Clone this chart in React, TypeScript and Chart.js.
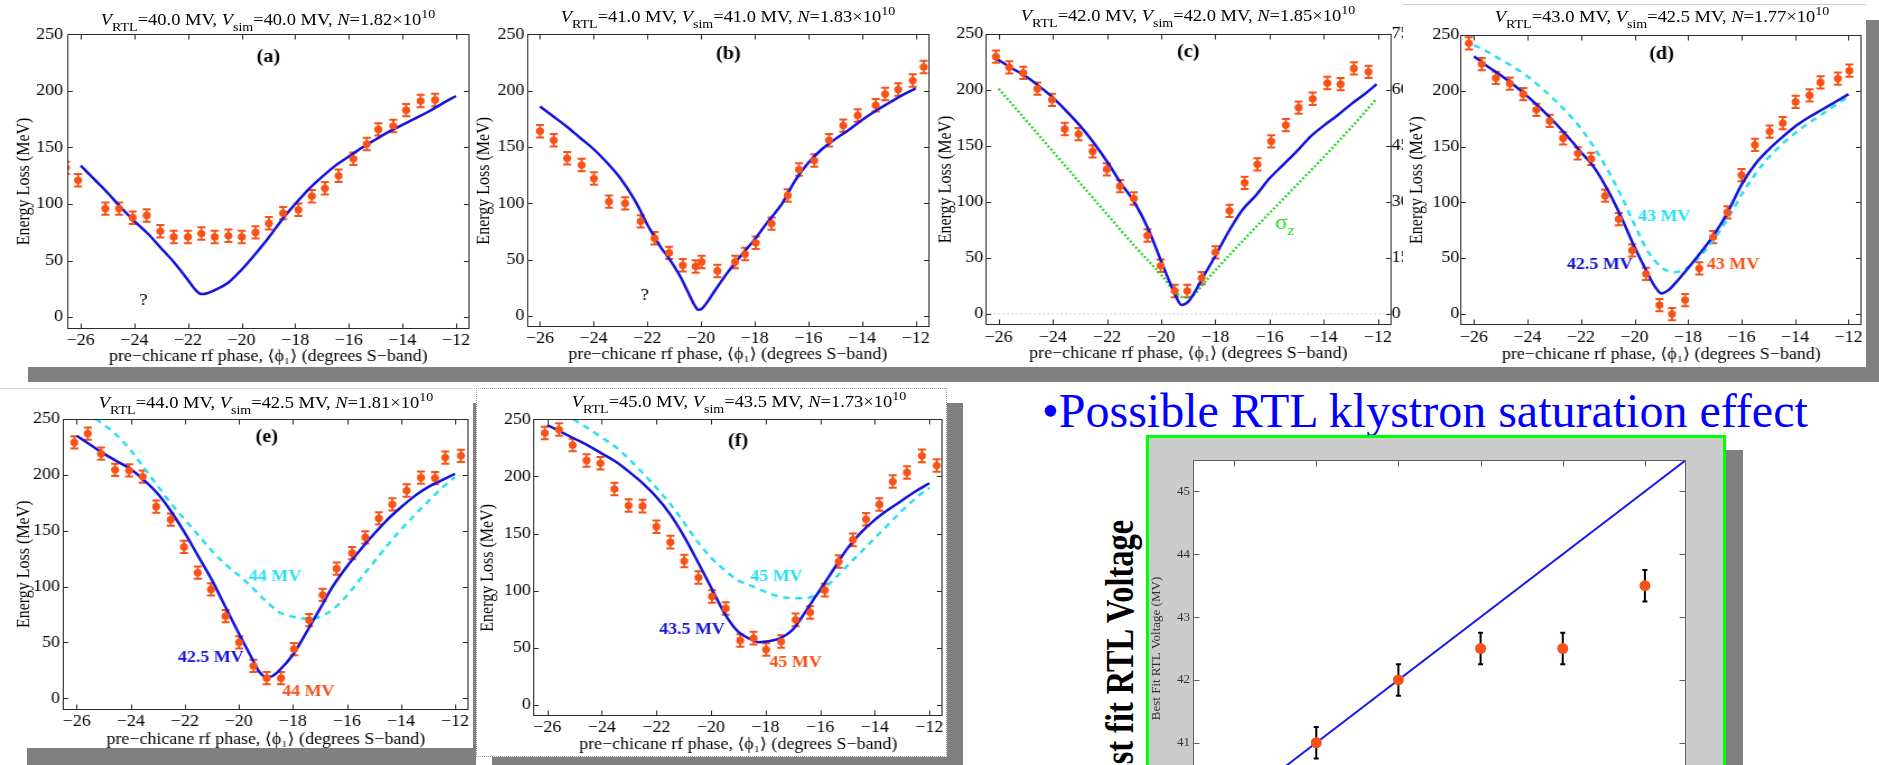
import React, { useEffect, useRef } from 'react';
import { Chart, registerables } from 'chart.js';

Chart.register(...registerables);

const SERIF = '"Liberation Serif", "Times New Roman", "DejaVu Serif", "DejaVu Sans", serif';
const ORANGE = '#fa5216';
const BLUE = '#1414dc';
const CYAN = '#2ae0f0';
const GREEN = '#27d827';
const SHADOW = '#808080';

// the scan panels are drawn narrow and widened, like the stretched figures on the slide
const STRETCH = 1.12;

// ---- axes ----
const PHASE_RANGE = [-26.5, -11.5];
const LOSS_RANGE = [-10, 250];
const SIGMA_PER_MEV = 0.3;
const FIT_RANGE = [39.5, 45.5];
const PHASE_TICKS = [-26, -24, -22, -20, -18, -16, -14, -12];
const LOSS_TICKS = [0, 50, 100, 150, 200, 250];
const SIGMA_TICKS = [0, 15, 30, 45, 60, 75];
const FIT_TICKS = [40, 41, 42, 43, 44, 45];

// ---- run parameters ----
const V_RTL = [40.0, 41.0, 42.0, 43.0, 44.0, 45.0];
const V_SIM = [40.0, 41.0, 42.0, 42.5, 42.5, 43.5];
const N_BUNCH = [1.82, 1.83, 1.85, 1.77, 1.81, 1.73];
const N_EXP = 10;
const LOSS_ERR = 5.5;
const FIT_ERR = 0.25;

// ---- (a) ----
const A_PHASE = [-26.55, -26.1, -25.08, -24.57, -24.06, -23.54, -23.03, -22.53, -22.0, -21.5, -21.0, -20.49, -19.99, -19.48, -18.98, -18.45, -17.88, -17.38, -16.89, -16.38, -15.83, -15.33, -14.9, -14.34, -13.86, -13.32, -12.78];
const A_LOSS = [132, 121, 96, 96, 88, 90, 76, 71, 71, 74, 71, 72, 71, 75, 83, 92, 95, 107, 114, 125, 140, 153, 166, 169, 183, 191, 192];
const A_SIM_PHASE = [-26, -25.5, -25, -24.5, -24, -23.5, -23, -22.5, -22, -21.75, -21.5, -21.25, -21, -20.5, -20, -19.5, -19, -18.5, -18, -17.5, -17, -16.5, -16, -15.5, -15, -14.5, -14, -13.5, -13, -12.5, -12];
const A_SIM_LOSS = [134, 122, 110, 97, 85, 74, 61, 48, 33, 25, 20.5, 21.5, 24, 30.5, 42, 55.5, 70, 86, 100, 113, 124, 134, 142, 150, 157, 164, 170, 176, 182, 189, 195.5];

// ---- (b) ----
const B_PHASE = [-26.0, -25.49, -24.99, -24.45, -23.99, -23.43, -22.83, -22.25, -21.73, -21.19, -20.68, -20.2, -19.98, -19.39, -18.73, -18.36, -17.96, -17.37, -16.77, -16.35, -15.78, -15.23, -14.7, -14.16, -13.49, -13.14, -12.65, -12.11, -11.7];
const B_LOSS = [164, 156, 140, 134, 122, 101.5, 100, 84, 69, 56, 45, 44, 48, 40, 48, 55, 65, 82, 107, 130, 138, 156, 169, 178, 187, 197, 201, 209, 221];
const B_SIM_PHASE = [-26, -25.5, -25, -24.5, -24, -23.5, -23, -22.5, -22.25, -22, -21.75, -21.5, -21.25, -21, -20.75, -20.5, -20.25, -20.1, -20, -19.75, -19.5, -19, -18.5, -18, -17.5, -17, -16.5, -16, -15.5, -15, -14.5, -14, -13.5, -13, -12.5, -12];
const B_SIM_LOSS = [186, 177, 168, 158, 148, 136, 122, 104, 93, 81, 71, 61, 53, 44, 34, 22, 10, 5.5, 6, 13, 22, 39, 54, 68, 84, 99, 120, 136, 148, 157, 165, 174, 182, 189, 196, 202];

// ---- (c) ----
const C_PHASE = [-26.1, -25.61, -25.09, -24.57, -24.03, -23.56, -23.05, -22.53, -22.01, -21.52, -21.01, -20.51, -20.02, -19.5, -19.04, -18.51, -18.0, -17.48, -16.92, -16.45, -15.94, -15.4, -14.93, -14.41, -13.87, -13.38, -12.89, -12.35];
const C_LOSS = [229.5, 220, 215, 201, 191, 165, 160.5, 145, 129, 114, 103, 70, 43, 20.5, 20.5, 32, 55, 92, 117, 133.5, 154, 168.5, 184, 192, 206, 205, 219, 216];
const C_SIM_PHASE = [-26.1, -25.5, -25, -24.5, -24, -23.5, -23, -22.5, -22, -21.5, -21, -20.5, -20, -19.75, -19.5, -19.25, -19, -18.75, -18.5, -18, -17.5, -17, -16.5, -16, -15.5, -15, -14.5, -14, -13.5, -13, -12.5, -12.05];
const C_SIM_LOSS = [228, 219, 212, 203, 193, 181, 168, 153, 136, 117, 100, 77, 47, 32, 18, 8, 11, 20, 31, 52, 74, 93, 106, 121, 133, 145, 158, 168, 177, 187, 196, 205];
const C_SIGMA_PHASE = [-26, -25, -24, -23, -22, -21, -20, -19.5, -19.25, -19, -18.75, -18.5, -18, -17, -16, -15, -14, -13, -12.05];
const C_SIGMA = [60.3, 51.9, 43.5, 35.1, 26.7, 18.3, 10.5, 6.0, 4.6, 4.4, 5.4, 7.6, 11.7, 19.5, 27.0, 34.5, 42.0, 49.8, 57.6];

// ---- (d) ----
const D_PHASE = [-26.19, -25.71, -25.18, -24.66, -24.16, -23.67, -23.17, -22.67, -22.12, -21.62, -21.1, -20.59, -20.09, -19.57, -19.07, -18.6, -18.11, -17.58, -17.06, -16.53, -16.0, -15.5, -14.95, -14.46, -13.98, -13.46, -13.05, -12.4, -11.97];
const D_LOSS = [242.5, 224, 211.5, 206.5, 197, 183, 173, 157.5, 144, 139, 106, 85, 57, 36, 8, 0, 12.5, 41, 69, 91, 124.5, 151.5, 163.5, 171, 190, 196, 207.5, 211, 218];
const D_SIM_PHASE = [-26, -25.5, -25, -24.5, -24, -23.5, -23, -22.5, -22, -21.5, -21, -20.5, -20, -19.5, -19.25, -19, -18.75, -18.5, -18, -17.5, -17, -16.5, -16, -15.5, -15, -14.5, -14, -13.5, -13, -12.5, -12];
const D_SIM_LOSS = [231, 222, 214, 205, 195, 184, 172, 159, 145, 131, 111, 87, 60, 36, 25, 18.5, 21, 27, 41, 56, 72, 92, 116, 134, 147, 158, 168, 176, 183, 190, 197];
const D_ALT_PHASE = [-26, -25.5, -25, -24.5, -24, -23.5, -23, -22.5, -22, -21.5, -21, -20.5, -20, -19.5, -19, -18.75, -18.5, -18.25, -18, -17.5, -17, -16.5, -16, -15.5, -15, -14.5, -14, -13.5, -13, -12.5, -12];
const D_ALT_LOSS = [241, 235, 228, 221, 213, 203, 192, 180, 166, 149, 129, 106, 80, 56, 42, 38.5, 37.5, 38.5, 42, 53, 68, 86, 107, 125, 140, 152, 162, 171, 179, 187, 195];

// ---- (e) ----
const E_PHASE = [-26.09, -25.59, -25.1, -24.58, -24.06, -23.56, -23.06, -22.52, -22.03, -21.52, -21.03, -20.49, -19.99, -19.46, -18.97, -18.44, -17.96, -17.4, -16.9, -16.38, -15.81, -15.32, -14.82, -14.32, -13.79, -13.26, -12.74, -12.36, -11.78];
const E_LOSS = [229, 237, 219, 204.5, 204, 198.5, 171.5, 160, 135.5, 112.5, 97.5, 73.5, 50, 29, 18, 18, 44, 70, 92.5, 116, 130, 144, 161, 173.5, 186, 197.5, 197, 215.5, 217];
const E_SIM_PHASE = [-26, -25.5, -25, -24.5, -24, -23.5, -23, -22.5, -22, -21.5, -21, -20.5, -20, -19.5, -19.25, -19, -18.75, -18.5, -18, -17.5, -17, -16.5, -16, -15.5, -15, -14.5, -14, -13.5, -13, -12.5, -12];
const E_SIM_LOSS = [235, 227, 219, 212, 205, 195, 183, 167, 148, 127, 106, 82, 58, 35, 24, 19, 20, 25, 39, 59, 80, 101, 118, 133, 147, 160, 171, 181, 189, 195, 201];
const E_ALT_PHASE = [-25.3, -25, -24.5, -24, -23.5, -23, -22.5, -22, -21.5, -21, -20.5, -20, -19.5, -19, -18.5, -18, -17.5, -17, -16.5, -16, -15.5, -15, -14.5, -14, -13.5, -13, -12.5, -12];
const E_ALT_LOSS = [250, 245, 235, 222, 206, 190, 174, 160, 146, 132, 120, 110, 99, 87, 77, 73, 71.5, 73, 80, 92, 107, 122, 137, 151, 164, 176, 188, 198];

// ---- (f) ----
const F_PHASE = [-26.09, -25.57, -25.07, -24.56, -24.05, -23.54, -23.02, -22.51, -22.0, -21.49, -20.98, -20.46, -19.96, -19.46, -18.93, -18.44, -17.98, -17.43, -16.9, -16.37, -15.83, -15.32, -14.8, -14.32, -13.83, -13.34, -12.82, -12.27, -11.73];
const F_LOSS = [238, 241, 227.5, 214, 211.5, 189, 174.5, 174, 156, 142.5, 126, 111.5, 95, 84.5, 56.5, 58.5, 48.5, 55.5, 74.5, 81, 100.5, 125.5, 144.5, 162.5, 175.5, 195.5, 203.5, 218, 209.5];
const F_SIM_PHASE = [-26, -25.5, -25, -24.5, -24, -23.5, -23, -22.5, -22, -21.5, -21, -20.5, -20, -19.5, -19, -18.5, -18.25, -18, -17.5, -17, -16.5, -16, -15.5, -15, -14.5, -14, -13.5, -13, -12.5, -12];
const F_SIM_LOSS = [245, 239, 233, 227, 220, 213, 204, 194, 182, 167, 148, 126, 103, 80, 64, 57, 55, 55.5, 58, 66, 83, 101, 119, 137, 151, 162, 171, 179, 187, 194];
const F_ALT_PHASE = [-25.05, -24.5, -24, -23.5, -23, -22.5, -22, -21.5, -21, -20.5, -20, -19.5, -19, -18.5, -18, -17.5, -17, -16.5, -16, -15.5, -15, -14.5, -14, -13.5, -13, -12.5, -12];
const F_ALT_LOSS = [250, 242, 234, 226, 215, 203, 190, 176, 160, 143, 129, 118, 109, 104, 99, 95, 93.5, 93.5, 99, 110, 122, 134, 146, 158, 170, 181, 190];

// ---- best-fit voltage summary ----
const FIT_X = V_RTL;
const FIT_Y = V_SIM;

const PHASE_TITLE = 'pre\u2212chicane rf phase, \u27e8\u03d5\u2081\u27e9 (degrees S\u2212band)';
const LOSS_TITLE = 'Energy Loss (MeV)';
const FIT_TITLE = 'Best Fit RTL Voltage (MV)';
const HEADLINE = '\u2022Possible RTL klystron saturation effect';
const SIDE_LABEL = 'Best fit RTL Voltage';

type Series = { x: number[]; y: number[] };
type Note = { x: number; y: number; text: string; color?: string; size?: number; weight?: string; sub?: string; axis?: string };
type LossPanel = {
  i: number;
  box: number[]; area: number[];
  yTitleX: number; yTickRight: number; xTickY: number; xTitleY: number; titleBase: number;
  meas: Series; sim: Series; alt?: Series; sigma?: Series; notes: Note[];
};

const PANELS: LossPanel[] = [
  {
    i: 0, box: [0, 0, 474, 367], area: [67.3, 34.3, 469.4, 328.6],
    yTitleX: 24, yTickRight: 63, xTickY: 341, xTitleY: 357, titleBase: 25,
    meas: { x: A_PHASE, y: A_LOSS }, sim: { x: A_SIM_PHASE, y: A_SIM_LOSS },
    notes: [{ x: -19.0, y: 230, text: '(a)', size: 18, weight: 'bold' }, { x: -23.66, y: 15, text: '?', size: 17 }],
  },
  {
    i: 1, box: [470, 0, 464, 367], area: [526.6, 34.3, 929.1, 327.3],
    yTitleX: 484.6, yTickRight: 524.3, xTickY: 339, xTitleY: 355, titleBase: 22.7,
    meas: { x: B_PHASE, y: B_LOSS }, sim: { x: B_SIM_PHASE, y: B_SIM_LOSS },
    notes: [{ x: -18.98, y: 232, text: '(b)', size: 18, weight: 'bold' }, { x: -22.09, y: 17.8, text: '?', size: 17 }],
  },
  {
    i: 2, box: [934, 0, 480, 367], area: [985.1, 33.7, 1391.5, 325.2],
    yTitleX: 946.3, yTickRight: 983.3, xTickY: 337.4, xTitleY: 353.4, titleBase: 21.7,
    meas: { x: C_PHASE, y: C_LOSS }, sim: { x: C_SIM_PHASE, y: C_SIM_LOSS }, sigma: { x: C_SIGMA_PHASE, y: C_SIGMA },
    notes: [
      { x: -19.0, y: 233, text: '(c)', size: 18, weight: 'bold' },
      { x: -15.45, y: 81, text: '\u03c3', sub: 'z', size: 21, color: GREEN },
    ],
  },
  {
    i: 3, box: [1403, 4, 463, 362], area: [1460.6, 35, 1863.4, 325.2],
    yTitleX: 1417.3, yTickRight: 1459.3, xTickY: 337.4, xTitleY: 355, titleBase: 22.7,
    meas: { x: D_PHASE, y: D_LOSS }, sim: { x: D_SIM_PHASE, y: D_SIM_LOSS }, alt: { x: D_ALT_PHASE, y: D_ALT_LOSS },
    notes: [
      { x: -18.99, y: 233, text: '(d)', size: 18, weight: 'bold' },
      { x: -18.89, y: 87, text: '43 MV', size: 16, weight: 'bold', color: CYAN },
      { x: -21.3, y: 44, text: '42.5 MV', size: 16, weight: 'bold', color: BLUE },
      { x: -16.32, y: 44, text: '43 MV', size: 16, weight: 'bold', color: ORANGE },
    ],
  },
  {
    i: 4, box: [0, 388, 473, 360], area: [63.2, 419, 468.5, 709.5],
    yTitleX: 24, yTickRight: 60, xTickY: 721.4, xTitleY: 739.8, titleBase: 408,
    meas: { x: E_PHASE, y: E_LOSS }, sim: { x: E_SIM_PHASE, y: E_SIM_LOSS }, alt: { x: E_ALT_PHASE, y: E_ALT_LOSS },
    notes: [
      { x: -18.97, y: 234, text: '(e)', size: 18, weight: 'bold' },
      { x: -18.66, y: 109, text: '44 MV', size: 16, weight: 'bold', color: CYAN },
      { x: -21.04, y: 36, text: '42.5 MV', size: 16, weight: 'bold', color: BLUE },
      { x: -17.43, y: 6, text: '44 MV', size: 16, weight: 'bold', color: ORANGE },
    ],
  },
  {
    i: 5, box: [476, 388, 471, 369], area: [533.6, 419.3, 943.7, 716.4],
    yTitleX: 488, yTickRight: 530.7, xTickY: 728, xTitleY: 744.8, titleBase: 407,
    meas: { x: F_PHASE, y: F_LOSS }, sim: { x: F_SIM_PHASE, y: F_SIM_LOSS }, alt: { x: F_ALT_PHASE, y: F_ALT_LOSS },
    notes: [
      { x: -19.01, y: 230.5, text: '(f)', size: 18, weight: 'bold' },
      { x: -17.6, y: 112, text: '45 MV', size: 16, weight: 'bold', color: CYAN },
      { x: -20.7, y: 65.6, text: '43.5 MV', size: 16, weight: 'bold', color: BLUE },
      { x: -16.9, y: 37, text: '45 MV', size: 16, weight: 'bold', color: ORANGE },
    ],
  },
];

const FIT_BOX = [1146, 435, 580, 445];
const FIT_AREA = [1193, 460, 1686, 837];

const pts = (s: Series) => s.x.map((x, k) => ({ x, y: s.y[k] }));
const signed = (v: any) => (Number(v) < 0 ? '\u2212' + Math.abs(Number(v)) : String(v));

// frame with inward ticks, error bars and in-plot labels
function decor(cfg: { notes: Note[]; frame: string; tickX: number; tickY: number; fill?: string; right?: string }) {
  return {
    id: 'decor',
    beforeDraw(chart: any) {
      if (!cfg.fill) return;
      const { ctx, chartArea: a } = chart;
      ctx.save();
      ctx.fillStyle = cfg.fill;
      ctx.fillRect(a.left, a.top, a.right - a.left, a.bottom - a.top);
      ctx.restore();
    },
    beforeDatasetsDraw(chart: any) {
      const { ctx, chartArea: a } = chart;
      ctx.save();
      ctx.beginPath();
      ctx.rect(a.left, a.top, a.right - a.left, a.bottom - a.top);
      ctx.clip();
      chart.data.datasets.forEach((ds: any, i: number) => {
        if (!ds.errorBar) return;
        const meta = chart.getDatasetMeta(i);
        const ys = chart.scales[meta.yAxisID];
        ctx.strokeStyle = ds.errorColor;
        ctx.lineWidth = ds.errorWidth;
        ctx.beginPath();
        meta.data.forEach((el: any, j: number) => {
          const v = ds.data[j].y;
          const t = ys.getPixelForValue(v + ds.errorBar);
          const b = ys.getPixelForValue(v - ds.errorBar);
          const c = ds.capHalf;
          ctx.moveTo(el.x, t); ctx.lineTo(el.x, b);
          ctx.moveTo(el.x - c, t); ctx.lineTo(el.x + c, t);
          ctx.moveTo(el.x - c, b); ctx.lineTo(el.x + c, b);
        });
        ctx.stroke();
      });
      ctx.restore();
    },
    afterDraw(chart: any) {
      const { ctx, chartArea: a, scales } = chart;
      ctx.save();
      ctx.strokeStyle = cfg.frame;
      ctx.lineWidth = 1;
      const L = Math.round(a.left) + 0.5;
      const R = Math.round(a.right) - 0.5;
      const T = Math.round(a.top) + 0.5;
      const B = Math.round(a.bottom) - 0.5;
      ctx.strokeRect(L, T, R - L, B - T);
      ctx.beginPath();
      scales.x.ticks.forEach((t: any) => {
        const p = Math.round(scales.x.getPixelForValue(t.value)) + 0.5;
        ctx.moveTo(p, B); ctx.lineTo(p, B - cfg.tickY);
        ctx.moveTo(p, T); ctx.lineTo(p, T + cfg.tickY);
      });
      scales.y.ticks.forEach((t: any) => {
        const p = Math.round(scales.y.getPixelForValue(t.value)) + 0.5;
        ctx.moveTo(L, p); ctx.lineTo(L + cfg.tickX, p);
      });
      const rs = scales[cfg.right || 'y'];
      rs.ticks.forEach((t: any) => {
        const p = Math.round(rs.getPixelForValue(t.value)) + 0.5;
        ctx.moveTo(R, p); ctx.lineTo(R - cfg.tickX, p);
      });
      ctx.stroke();
      cfg.notes.forEach((n) => {
        const px = scales.x.getPixelForValue(n.x);
        const py = scales[n.axis || 'y'].getPixelForValue(n.y);
        const size = n.size || 18;
        const mainFont = `${n.weight || 'normal'} ${size}px ${SERIF}`;
        ctx.fillStyle = n.color || '#000';
        ctx.textBaseline = 'middle';
        ctx.font = mainFont;
        if (!n.sub) {
          ctx.textAlign = 'center';
          ctx.fillText(n.text, px, py);
          return;
        }
        const mw = ctx.measureText(n.text).width;
        const subFont = `italic ${Math.round(size * 0.72)}px ${SERIF}`;
        ctx.font = subFont;
        const sw = ctx.measureText(n.sub).width;
        const x0 = px - (mw + sw) / 2;
        ctx.textAlign = 'left';
        ctx.font = mainFont;
        ctx.fillText(n.text, x0, py);
        ctx.font = subFont;
        ctx.fillText(n.sub, x0 + mw, py + size * 0.38);
      });
      ctx.restore();
    },
  };
}

const TICK_SIZE = 16;
const tickFont = { family: SERIF, size: TICK_SIZE, lineHeight: 1.2 };
const hiddenGrid = { display: false, drawTicks: false };

function lossConfig(p: LossPanel, cwC: number, sx: number) {
  const [cx, cy, , ch] = p.box;
  const [L, T, R, B] = p.area;
  const toC = (X: number) => (X - cx) / sx;
  const lh = TICK_SIZE * 1.2;
  const yTitleSize = 16;
  const datasets: any[] = [
    {
      data: pts(p.meas), showLine: false, pointRadius: 3.6, pointHoverRadius: 3.6,
      pointBackgroundColor: ORANGE, pointBorderWidth: 0,
      errorBar: LOSS_ERR, errorColor: ORANGE, errorWidth: 2, capHalf: 3.6,
    },
    {
      data: pts(p.sim), showLine: true, borderColor: BLUE, borderWidth: 2.5,
      pointRadius: 0, cubicInterpolationMode: 'monotone',
    },
  ];
  if (p.alt) {
    datasets.push({
      data: pts(p.alt), showLine: true, borderColor: CYAN, borderWidth: 2.5, borderDash: [6, 5],
      pointRadius: 0, cubicInterpolationMode: 'monotone',
    });
  }
  if (p.sigma) {
    datasets.push({
      data: pts(p.sigma), yAxisID: 'y2', showLine: true, borderColor: GREEN, borderWidth: 2.4,
      borderDash: [2, 2], pointRadius: 0, cubicInterpolationMode: 'monotone',
    });
    datasets.push({
      data: PHASE_RANGE.map((x) => ({ x, y: 0 })), showLine: true, borderColor: '#9c9cf0',
      borderWidth: 1, borderDash: [1, 3], pointRadius: 0,
    });
  }
  const scales: any = {
    x: {
      type: 'linear', position: 'bottom', min: PHASE_RANGE[0], max: PHASE_RANGE[1],
      afterBuildTicks: (s: any) => { s.ticks = PHASE_TICKS.map((v) => ({ value: v })); },
      afterFit: (s: any) => { s.height = cy + ch - B; s.paddingLeft = 0; s.paddingRight = 0; },
      grid: hiddenGrid, border: { display: false },
      ticks: { padding: p.xTickY - B - lh / 2, font: tickFont, color: '#000', maxRotation: 0, minRotation: 0, autoSkip: false, callback: signed },
      title: { display: true, text: PHASE_TITLE, color: '#000', font: tickFont, padding: { top: 0, bottom: cy + ch - p.xTitleY - lh / 2 } },
    },
    y: {
      type: 'linear', position: 'left', min: LOSS_RANGE[0], max: LOSS_RANGE[1],
      afterBuildTicks: (s: any) => { s.ticks = LOSS_TICKS.map((v) => ({ value: v })); },
      afterFit: (s: any) => { s.width = toC(L); s.paddingTop = 0; s.paddingBottom = 0; },
      grid: hiddenGrid, border: { display: false },
      ticks: { padding: (L - p.yTickRight) / sx, font: tickFont, color: '#000' },
      title: {
        display: true, text: LOSS_TITLE, color: '#000',
        font: { family: SERIF, size: yTitleSize, lineHeight: 1.2 },
        padding: { top: toC(p.yTitleX) - yTitleSize * 0.6, bottom: 0 },
      },
    },
  };
  if (p.sigma) {
    scales.y2 = {
      type: 'linear', position: 'right',
      min: LOSS_RANGE[0] * SIGMA_PER_MEV, max: LOSS_RANGE[1] * SIGMA_PER_MEV,
      afterBuildTicks: (s: any) => { s.ticks = SIGMA_TICKS.map((v) => ({ value: v })); },
      afterFit: (s: any) => { s.width = cwC - toC(R); s.paddingTop = 0; s.paddingBottom = 0; },
      grid: hiddenGrid, border: { display: false },
      ticks: { padding: 0, font: tickFont, color: '#000' },
    };
  }
  return {
    type: 'scatter',
    data: { datasets },
    options: {
      responsive: false, animation: false, devicePixelRatio: 1, events: [],
      layout: { padding: { left: 0, bottom: 0, top: T - cy, right: p.sigma ? 0 : cwC - toC(R) } },
      plugins: { legend: { display: false }, tooltip: { enabled: false }, title: { display: false } },
      scales,
    },
    plugins: [decor({ notes: p.notes, frame: '#2a2a2a', tickX: 5 / sx, tickY: 5, right: p.sigma ? 'y2' : 'y' })],
  };
}

function fitConfig() {
  const [cx, cy, cw, ch] = FIT_BOX;
  const [L, T, R, B] = FIT_AREA;
  const small = { family: SERIF, size: 13, lineHeight: 1.2 };
  return {
    type: 'scatter',
    data: {
      datasets: [
        {
          data: FIT_X.map((x, k) => ({ x, y: FIT_Y[k] })), showLine: false,
          pointRadius: 5.5, pointBackgroundColor: ORANGE, pointBorderWidth: 0,
          errorBar: FIT_ERR, errorColor: '#000', errorWidth: 2, capHalf: 2.5,
        },
        {
          data: FIT_RANGE.map((v) => ({ x: v, y: v })), showLine: true,
          borderColor: '#1a1af0', borderWidth: 2, pointRadius: 0,
        },
      ],
    },
    options: {
      responsive: false, animation: false, devicePixelRatio: 1, events: [],
      layout: { padding: { left: 0, bottom: 0, top: T - cy, right: cx + cw - R } },
      plugins: { legend: { display: false }, tooltip: { enabled: false } },
      scales: {
        x: {
          type: 'linear', min: FIT_RANGE[0], max: FIT_RANGE[1],
          afterBuildTicks: (s: any) => { s.ticks = FIT_TICKS.map((v) => ({ value: v })); },
          afterFit: (s: any) => { s.height = cy + ch - B; s.paddingLeft = 0; s.paddingRight = 0; },
          grid: hiddenGrid, border: { display: false },
          ticks: { padding: 4, font: small, color: '#333' },
        },
        y: {
          type: 'linear', min: FIT_RANGE[0], max: FIT_RANGE[1],
          afterBuildTicks: (s: any) => { s.ticks = FIT_TICKS.map((v) => ({ value: v })); },
          afterFit: (s: any) => { s.width = L - cx; s.paddingTop = 0; s.paddingBottom = 0; },
          grid: hiddenGrid, border: { display: false },
          ticks: { padding: 3, font: small, color: '#333' },
          title: { display: true, text: FIT_TITLE, color: '#333', font: small, padding: { top: 1157 - cx - 7.8, bottom: 0 } },
        },
      },
    },
    plugins: [decor({ notes: [], frame: '#5e5e5e', tickX: 6, tickY: 6, fill: '#ffffff' })],
  };
}

function ChartCanvas({ box, pixelWidth, make }: { box: number[]; pixelWidth: number; make: () => any }) {
  const ref = useRef<HTMLCanvasElement | null>(null);
  useEffect(() => {
    const chart = new Chart(ref.current as HTMLCanvasElement, make());
    return () => chart.destroy();
  }, []);
  const [x, y, w, h] = box;
  return (
    <canvas
      ref={ref}
      width={pixelWidth}
      height={h}
      style={{ position: 'absolute', left: x, top: y, width: w, height: h }}
    />
  );
}

const SUB: React.CSSProperties = { position: 'relative', top: 6, fontSize: 12.5 };
const SUP: React.CSSProperties = { position: 'relative', top: -7, fontSize: 12.5 };

function RunTitle({ p }: { p: LossPanel }) {
  const mid = (p.area[0] + p.area[2]) / 2;
  const i = p.i;
  return (
    <div
      style={{
        position: 'absolute', left: mid - 260, width: 520, top: p.titleBase - 13.4,
        textAlign: 'center', fontFamily: SERIF, fontSize: 16.5, lineHeight: '16px',
        whiteSpace: 'nowrap', color: '#000', transform: `scaleX(${STRETCH})`,
      }}
    >
      <i>V</i><span style={SUB}>RTL</span>{'=' + V_RTL[i].toFixed(1) + ' MV, '}
      <i>V</i><span style={SUB}>sim</span>{'=' + V_SIM[i].toFixed(1) + ' MV, '}
      <i>N</i>{'=' + N_BUNCH[i].toFixed(2) + '\u00d710'}<span style={SUP}>{N_EXP}</span>
    </div>
  );
}

function LossChart({ p }: { p: LossPanel }) {
  const cwC = Math.round(p.box[2] / STRETCH);
  const sx = p.box[2] / cwC;
  return (
    <>
      <ChartCanvas box={p.box} pixelWidth={cwC} make={() => lossConfig(p, cwC, sx)} />
      <RunTitle p={p} />
    </>
  );
}

const rect = (left: number, top: number, width: number, height: number, background: string): React.CSSProperties => ({
  position: 'absolute', left, top, width, height, background,
});

export default function App() {
  return (
    <div style={{ position: 'absolute', left: 0, top: 0, width: 1879, height: 765, overflow: 'hidden', background: '#fff' }}>
      {/* first row of scans */}
      <div style={rect(28, 20, 1851, 362, SHADOW)} />
      <div style={rect(0, 0, 1866, 367, '#fff')} />
      <LossChart p={PANELS[0]} />
      <LossChart p={PANELS[1]} />
      <LossChart p={PANELS[2]} />
      <div style={{ ...rect(1403, 4, 463, 362, '#fff'), borderTop: '1px solid #c9c9da', boxSizing: 'border-box' }} />
      <LossChart p={PANELS[3]} />

      {/* second row of scans */}
      <div style={rect(27, 403, 449, 362, SHADOW)} />
      <div style={{ ...rect(0, 388, 473, 360, '#fff'), borderTop: '1px solid #d2d2de', boxSizing: 'border-box' }} />
      <LossChart p={PANELS[4]} />
      <div style={rect(492, 403, 471, 362, SHADOW)} />
      <div style={{ ...rect(476, 388, 471, 369, '#fff'), border: '1px dotted #9a9a9a', boxSizing: 'border-box' }} />
      <LossChart p={PANELS[5]} />

      {/* best-fit voltage summary */}
      <div
        style={{
          position: 'absolute', left: 1042, top: 387, fontFamily: SERIF, fontSize: 48,
          lineHeight: '48px', color: '#0000ff', whiteSpace: 'nowrap',
        }}
      >
        {HEADLINE}
      </div>
      <div
        style={{
          position: 'absolute', left: 0, top: 0, fontFamily: SERIF, fontSize: 39, fontWeight: 'bold',
          lineHeight: '39px', color: '#000', whiteSpace: 'nowrap', transformOrigin: '0 0',
          transform: 'translate(1133px, 520px) rotate(-90deg) scaleX(0.83) translate(-100%, -32.6px)',
        }}
      >
        {SIDE_LABEL}
      </div>
      <div style={rect(1726, 450, 17, 330, SHADOW)} />
      <div
        style={{
          ...rect(1146, 435, 580, 400, '#cccccc'), border: '3px solid #00ff00', borderBottom: 'none',
          boxSizing: 'border-box',
        }}
      />
      <ChartCanvas box={FIT_BOX} pixelWidth={FIT_BOX[2]} make={fitConfig} />
    </div>
  );
}
